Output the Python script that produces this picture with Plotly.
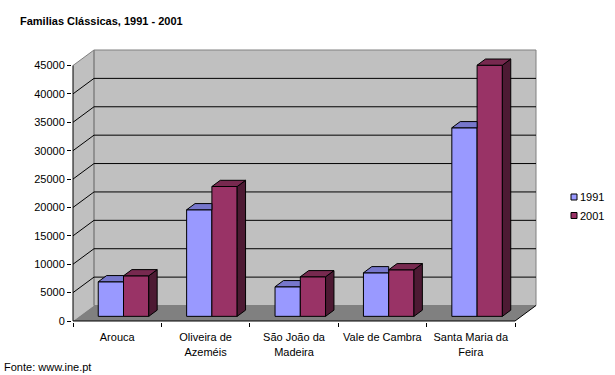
import plotly.graph_objects as go

# ---------------- data ----------------
categories = ["Arouca", "Oliveira de<br>Azeméis", "São João da<br>Madeira",
              "Vale de Cambra", "Santa Maria da<br>Feira"]
series_names = ["1991", "2001"]
values_1991 = [6090, 18770, 5210, 7670, 33210]
values_2001 = [7140, 22870, 6970, 8200, 44230]
y_ticks = [0, 5000, 10000, 15000, 20000, 25000, 30000, 35000, 40000, 45000]
title_text = "Familias Clássicas, 1991 - 2001"
source_text = "Fonte: www.ine.pt"

front_colors = ["#9999FF", "#993366"]
top_colors = ["#7777CC", "#77294F"]
side_colors = ["#4C4C80", "#4D1A33"]

# ---------------- geometry (pixel based) ----------------
W, H = 615, 375
L_px, R_px, T_px, B_px = 72, 540, 45, 322
X0_px, Y0_px = 73, 321            # pixel of data origin
XU = 88.4                          # px per category
YU = 255.5 / 45000                 # px per value unit
DX = 21 / XU                       # chart depth in x units
DY = 15.5 / YU                     # chart depth in y units
YMAX = y_ticks[-1]
NC = len(categories)

bw = 1 / 3.5                       # bar width (gap width 150%)
f0 = 0.30                          # front depth of bars
fd = 0.40                          # bar depth fraction
bx, by = f0 * DX, f0 * DY          # shift of bar front face
dx, dy = fd * DX, fd * DY          # bar depth

x_range = [(L_px - X0_px) / XU, (R_px - X0_px) / XU]
y_range = [(Y0_px - B_px) / YU, (Y0_px - T_px) / YU]


def poly(pts):
    return "M " + " L ".join(f"{x},{y}" for x, y in pts) + " Z"


fig = go.Figure()

shapes = []
# side (left) wall
shapes.append(dict(type="path", xref="x", yref="y", layer="below",
                   path=poly([(0, 0), (DX, DY), (DX, YMAX + DY), (0, YMAX)]),
                   fillcolor="#C0C0C0", line=dict(width=0)))
# back wall
shapes.append(dict(type="path", xref="x", yref="y", layer="below",
                   path=poly([(DX, DY), (NC + DX, DY), (NC + DX, YMAX + DY), (DX, YMAX + DY)]),
                   fillcolor="#C0C0C0", line=dict(color="#808080", width=1)))
# floor
shapes.append(dict(type="path", xref="x", yref="y", layer="below",
                   path=poly([(0, 0), (NC, 0), (NC + DX, DY), (DX, DY)]),
                   fillcolor="#808080", line=dict(width=0)))
# wall edges (gray)
shapes.append(dict(type="line", xref="x", yref="y", layer="below",
                   x0=0, y0=YMAX, x1=DX, y1=YMAX + DY, line=dict(color="#808080", width=1)))
shapes.append(dict(type="line", xref="x", yref="y", layer="below",
                   x0=DX, y0=DY, x1=DX, y1=YMAX + DY, line=dict(color="#808080", width=1)))
# gridlines
for v in y_ticks[1:-1]:
    shapes.append(dict(type="line", xref="x", yref="y", layer="below",
                       x0=DX, y0=v + DY, x1=NC + DX, y1=v + DY, line=dict(color="black", width=1)))
    shapes.append(dict(type="line", xref="x", yref="y", layer="below",
                       x0=0, y0=v, x1=DX, y1=v + DY, line=dict(color="black", width=1)))
# axis lines
shapes.append(dict(type="line", xref="x", yref="y", layer="below",
                   x0=0, y0=0, x1=0, y1=YMAX, line=dict(color="black", width=1)))
shapes.append(dict(type="line", xref="x", yref="y", layer="below",
                   x0=0, y0=0, x1=NC, y1=0, line=dict(color="black", width=1)))
shapes.append(dict(type="line", xref="x", yref="y", layer="below",
                   x0=NC, y0=0, x1=NC + DX, y1=DY, line=dict(color="black", width=1)))

series = [values_1991, values_2001]
centers = [i + 0.5 for i in range(NC)]

# front faces as bars
for j, vals in enumerate(series):
    fig.add_trace(go.Bar(
        x=[c + (j - 0.5) * bw + bx for c in centers],
        y=vals, base=[by] * NC, width=bw,
        marker=dict(color=front_colors[j], line=dict(color="black", width=1)),
        name=series_names[j], showlegend=False, hoverinfo="skip"))

# top and side faces
for i in range(NC):
    for j, vals in enumerate(series):
        x0 = centers[i] + (j - 1) * bw + bx
        x1 = x0 + bw
        T = vals[i] + by
        if j == 0:
            top = [(x0, T), (x1, T), (x1, T + dy), (x0 + dx, T + dy)]
        else:
            top = [(x0, T), (x1, T), (x1 + dx, T + dy), (x0 + dx, T + dy)]
            side = [(x1, by), (x1 + dx, by + dy), (x1 + dx, T + dy), (x1, T)]
            fig.add_trace(go.Scatter(
                x=[p[0] for p in side] + [side[0][0]], y=[p[1] for p in side] + [side[0][1]],
                mode="lines", fill="toself", fillcolor=side_colors[j],
                line=dict(color="black", width=1), showlegend=False, hoverinfo="skip"))
        fig.add_trace(go.Scatter(
            x=[p[0] for p in top] + [top[0][0]], y=[p[1] for p in top] + [top[0][1]],
            mode="lines", fill="toself", fillcolor=top_colors[j],
            line=dict(color="black", width=1), showlegend=False, hoverinfo="skip"))

# legend (manual, Excel style)
plot_w = R_px - L_px
plot_h = B_px - T_px


def px2paper(px, py):
    return (px - L_px) / plot_w, (B_px - py) / plot_h


annotations = []
for j, name in enumerate(series_names):
    cy = 197 + j * 18.5
    xa, ya = px2paper(571, cy - 3)
    xb, yb = px2paper(577, cy + 3)
    shapes.append(dict(type="rect", xref="paper", yref="paper", x0=xa, y0=ya, x1=xb, y1=yb,
                       fillcolor=front_colors[j], line=dict(color="black", width=1)))
    tx, ty = px2paper(578, cy)
    annotations.append(dict(xref="paper", yref="paper", x=tx, y=ty, text=name,
                            showarrow=False, xanchor="left", yanchor="middle",
                            font=dict(family="Arial, Liberation Sans", size=11, color="black")))

sx, sy = px2paper(2, 367)
annotations.append(dict(xref="paper", yref="paper", x=sx, y=sy, text=source_text,
                        showarrow=False, xanchor="left", yanchor="middle",
                        font=dict(family="Arial, Liberation Sans", size=11, color="black")))

fig.update_layout(
    width=W, height=H, autosize=False,
    margin=dict(l=L_px, r=W - R_px, t=T_px, b=H - B_px, pad=0),
    paper_bgcolor="white", plot_bgcolor="white",
    barmode="overlay",
    title=dict(text=f"<b>{title_text}</b>", x=20 / W, xanchor="left", xref="container",
               y=1 - 21 / H, yanchor="middle", yref="container",
               font=dict(family="Arial, Liberation Sans", size=11, color="black")),
    font=dict(family="Arial, Liberation Sans", size=11, color="black"),
    shapes=shapes, annotations=annotations,
    xaxis=dict(range=x_range, showgrid=False, zeroline=False, showline=False,
               tickmode="array", tickvals=centers, ticktext=categories,
               ticks="outside", ticklen=5, tickcolor="rgba(0,0,0,0)",
               tickfont=dict(family="Arial, Liberation Sans", size=11, color="black"),
               minor=dict(tickmode="array", tickvals=list(range(NC + 1)), ticks="outside",
                          ticklen=4, tickcolor="black", showgrid=False),
               fixedrange=True),
    yaxis=dict(range=y_range, showgrid=False, zeroline=False, showline=False,
               tickmode="array", tickvals=y_ticks, ticktext=[str(v) for v in y_ticks],
               ticks="outside", ticklen=4, tickcolor="black",
               tickfont=dict(family="Arial, Liberation Sans", size=11, color="black"),
               fixedrange=True),
    showlegend=False,
)

fig.write_html("out.html", config={"displayModeBar": False},
               post_script="document.body.style.margin='0';document.body.style.overflow='hidden';")
